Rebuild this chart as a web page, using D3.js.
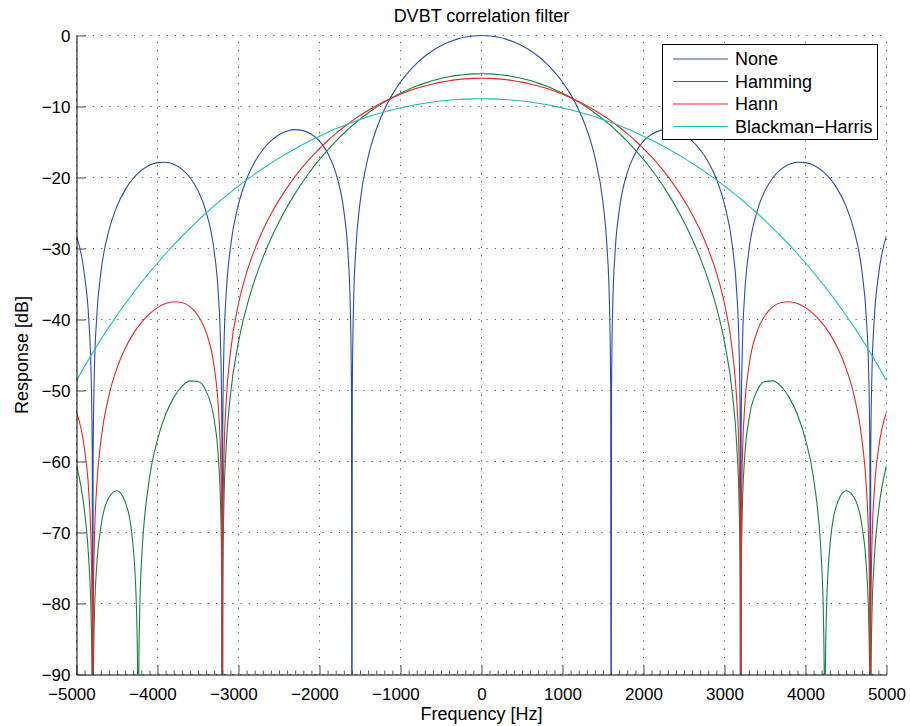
<!DOCTYPE html>
<html>
<head>
<meta charset="utf-8">
<title>DVBT correlation filter</title>
<script src="https://cdn.jsdelivr.net/npm/d3@7"></script>
<style>
  html, body { margin: 0; padding: 0; background: #fff; }
  svg { display: block; font-family: "Liberation Sans", Arial, Helvetica, sans-serif; }
  .grid line { stroke: #555; stroke-width: 1; stroke-dasharray: 1.2 7; }
  .axis .domain { stroke: #000; stroke-width: 1; }
  .axis .tick line { stroke: #4a4a4a; stroke-width: 1; }
  .axis text { fill: #000; font-size: 17px; }
  .minor .tick line { stroke: #5a5a5a; }
  .curve { fill: none; stroke-width: 1.1; stroke-linejoin: round; }
</style>
</head>
<body>
<svg id="chart" width="910" height="726"></svg>
<script>
// Frequency grid in Hz (denser close to the notches).
const freqHz = [
  -5000,-4900,-4850,-4820,-4805,-4800,-4795,-4780,-4750,-4700,-4600,-4500,-4400,-4300,-4256,-4244,-4238,-4232,-4220,-4200,
  -4100,-4000,-3900,-3800,-3700,-3600,-3500,-3400,-3300,-3250,-3220,-3205,-3200,-3195,-3180,-3150,-3100,-3000,-2900,-2800,
  -2700,-2600,-2500,-2400,-2300,-2200,-2100,-2000,-1900,-1800,-1700,-1650,-1620,-1605,-1600,-1595,-1580,-1550,-1500,-1400,
  -1300,-1200,-1100,-1000,-900,-800,-700,-600,-500,-400,-300,-200,-100,
  0,
  100,200,300,400,500,600,700,800,900,1000,1100,1200,1300,1400,1500,1550,1580,1595,1600,1605,
  1620,1650,1700,1800,1900,2000,2100,2200,2300,2400,2500,2600,2700,2800,2900,3000,3100,3150,3180,3195,
  3200,3205,3220,3250,3300,3400,3500,3600,3700,3800,3900,4000,4100,4200,4220,4232,4238,4244,4256,4300,
  4400,4500,4600,4700,4750,4780,4795,4800,4805,4820,4850,4900,5000
];

// Responses in dB. Notches are deep nulls far below the -90 dB floor (-150).
const respNone = [
  -28.18,-33.86,-39.75,-47.64,-59.65,-150,-59.63,-47.57,-39.57,-33.50,-27.46,-24.03,-21.74,-20.13,-19.59,-19.45,-19.39,-19.32,-19.20,-19.01,
  -18.28,-17.90,-17.85,-18.14,-18.83,-20.00,-21.85,-24.83,-30.43,-36.27,-44.14,-56.14,-150,-56.11,-44.03,-36.00,-29.88,-23.75,-20.21,-17.81,
  -16.09,-14.85,-13.99,-13.46,-13.26,-13.40,-13.91,-14.89,-16.54,-19.31,-24.67,-30.39,-38.17,-50.13,-150,-50.08,-37.96,-29.84,-23.58,-17.13,
  -13.25,-10.45,-8.29,-6.55,-5.11,-3.92,-2.93,-2.11,-1.44,-0.91,-0.51,-0.22,-0.06,
  0,
  -0.06,-0.22,-0.51,-0.91,-1.44,-2.11,-2.93,-3.92,-5.11,-6.55,-8.29,-10.45,-13.25,-17.13,-23.58,-29.84,-37.96,-50.08,-150,-50.13,
  -38.17,-30.39,-24.67,-19.31,-16.54,-14.89,-13.91,-13.40,-13.26,-13.46,-13.99,-14.85,-16.09,-17.81,-20.21,-23.75,-29.88,-36.00,-44.03,-56.11,
  -150,-56.14,-44.14,-36.27,-30.43,-24.83,-21.85,-20.00,-18.83,-18.14,-17.85,-17.90,-18.28,-19.01,-19.20,-19.32,-19.39,-19.45,-19.59,-20.13,
  -21.74,-24.03,-27.46,-33.50,-39.57,-47.57,-59.63,-150,-59.65,-47.64,-39.75,-33.86,-28.18
];

const respHamming = [
  -60.56,-67.16,-73.58,-81.82,-94.01,-150,-94.11,-82.24,-74.64,-69.30,-65.06,-64.11,-65.65,-72.06,-82.23,-92.00,-150,-90.67,-81.33,-74.67,
  -62.42,-56.91,-53.39,-51.00,-49.44,-48.65,-48.74,-50.09,-54.15,-59.25,-66.68,-78.46,-150,-78.29,-65.99,-57.54,-50.71,-43.18,-38.26,-34.46,
  -31.32,-28.63,-26.26,-24.14,-22.23,-20.50,-18.91,-17.46,-16.13,-14.90,-13.77,-13.24,-12.94,-12.78,-12.73,-12.68,-12.54,-12.25,-11.78,-10.91,
  -10.11,-9.38,-8.72,-8.12,-7.59,-7.12,-6.71,-6.35,-6.05,-5.81,-5.62,-5.49,-5.41,
  -5.38,
  -5.41,-5.49,-5.62,-5.81,-6.05,-6.35,-6.71,-7.12,-7.59,-8.12,-8.72,-9.38,-10.11,-10.91,-11.78,-12.25,-12.54,-12.68,-12.73,-12.78,
  -12.94,-13.24,-13.77,-14.90,-16.13,-17.46,-18.91,-20.50,-22.23,-24.14,-26.26,-28.63,-31.32,-34.46,-38.26,-43.18,-50.71,-57.54,-65.99,-78.29,
  -150,-78.46,-66.68,-59.25,-54.15,-50.09,-48.74,-48.65,-49.44,-51.00,-53.39,-56.91,-62.42,-74.67,-81.33,-90.67,-150,-92.00,-82.23,-72.06,
  -65.65,-64.11,-65.06,-69.30,-74.64,-82.24,-94.11,-150,-94.01,-81.82,-73.58,-67.16,-60.56
];

const respHann = [
  -53.06,-58.35,-64.04,-71.81,-83.75,-150,-83.70,-71.57,-63.45,-57.17,-50.71,-46.84,-44.10,-42.03,-41.28,-41.09,-41.00,-40.90,-40.72,-40.44,
  -39.22,-38.33,-37.75,-37.50,-37.61,-38.19,-39.43,-41.78,-46.70,-52.19,-59.85,-71.74,-150,-71.64,-59.45,-51.20,-44.70,-37.78,-33.41,-30.12,
  -27.44,-25.17,-23.19,-21.42,-19.84,-18.41,-17.11,-15.92,-14.82,-13.82,-12.89,-12.46,-12.21,-12.08,-12.04,-12.00,-11.88,-11.64,-11.26,-10.55,
  -9.89,-9.30,-8.75,-8.27,-7.83,-7.44,-7.11,-6.82,-6.57,-6.37,-6.22,-6.11,-6.04,
  -6.02,
  -6.04,-6.11,-6.22,-6.37,-6.57,-6.82,-7.11,-7.44,-7.83,-8.27,-8.75,-9.30,-9.89,-10.55,-11.26,-11.64,-11.88,-12.00,-12.04,-12.08,
  -12.21,-12.46,-12.89,-13.82,-14.82,-15.92,-17.11,-18.41,-19.84,-21.42,-23.19,-25.17,-27.44,-30.12,-33.41,-37.78,-44.70,-51.20,-59.45,-71.64,
  -150,-71.74,-59.85,-52.19,-46.70,-41.78,-39.43,-38.19,-37.61,-37.50,-37.75,-38.33,-39.22,-40.44,-40.72,-40.90,-41.00,-41.09,-41.28,-42.03,
  -44.10,-46.84,-50.71,-57.17,-63.45,-71.57,-83.70,-150,-83.75,-71.81,-64.04,-58.35,-53.06
];

const respBlackmanHarris = [
  -48.64,-46.60,-45.63,-45.05,-44.77,-44.67,-44.58,-44.30,-43.74,-42.83,-41.08,-39.40,-37.80,-36.27,-35.61,-35.43,-35.35,-35.26,-35.08,-34.80,
  -33.39,-32.04,-30.74,-29.50,-28.31,-27.16,-26.06,-25.00,-23.99,-23.50,-23.21,-23.07,-23.02,-22.97,-22.83,-22.55,-22.09,-21.19,-20.34,-19.52,
  -18.74,-17.99,-17.27,-16.59,-15.94,-15.32,-14.73,-14.18,-13.65,-13.15,-12.69,-12.46,-12.33,-12.27,-12.25,-12.23,-12.16,-12.04,-11.84,-11.45,
  -11.10,-10.77,-10.47,-10.20,-9.95,-9.73,-9.54,-9.37,-9.23,-9.11,-9.02,-8.96,-8.92,
  -8.90,
  -8.92,-8.96,-9.02,-9.11,-9.23,-9.37,-9.54,-9.73,-9.95,-10.20,-10.47,-10.77,-11.10,-11.45,-11.84,-12.04,-12.16,-12.23,-12.25,-12.27,
  -12.33,-12.46,-12.69,-13.15,-13.65,-14.18,-14.73,-15.32,-15.94,-16.59,-17.27,-17.99,-18.74,-19.52,-20.34,-21.19,-22.09,-22.55,-22.83,-22.97,
  -23.02,-23.07,-23.21,-23.50,-23.99,-25.00,-26.06,-27.16,-28.31,-29.50,-30.74,-32.04,-33.39,-34.80,-35.08,-35.26,-35.35,-35.43,-35.61,-36.27,
  -37.80,-39.40,-41.08,-42.83,-43.74,-44.30,-44.58,-44.67,-44.77,-45.05,-45.63,-46.60,-48.64
];

const seriesNames = ["None", "Hamming", "Hann", "Blackman\u2212Harris"];
const xTickValues = [-5000,-4000,-3000,-2000,-1000,0,1000,2000,3000,4000,5000];
const yTickValues = [0,-10,-20,-30,-40,-50,-60,-70,-80,-90];
const xMinorStep = 100;

// ---- layout ----
const plot = { left: 76.5, right: 886.5, top: 35.5, bottom: 674.5 };
const colors = ["#2a4cad", "#178042", "#ee2424", "#1fbdbd"];
const fmt = v => (v < 0 ? "\u2212" : "") + Math.abs(v);

const svg = d3.select("#chart");
const x = d3.scaleLinear().domain([-5000, 5000]).range([plot.left, plot.right]);
const y = d3.scaleLinear().domain([-90, 0]).range([plot.bottom, plot.top]);

// dotted grid
const grid = svg.append("g").attr("class", "grid");
grid.selectAll("line.gx").data(xTickValues).join("line")
  .attr("class", "gx")
  .attr("x1", d => x(d)).attr("x2", d => x(d))
  .attr("y1", plot.bottom).attr("y2", plot.top);
grid.selectAll("line.gy").data(yTickValues).join("line")
  .attr("class", "gy")
  .attr("x1", plot.left).attr("x2", plot.right)
  .attr("y1", d => y(d)).attr("y2", d => y(d));

// curves, clipped to the axes box
svg.append("defs").append("clipPath").attr("id", "plotClip")
  .append("rect")
  .attr("x", plot.left).attr("y", plot.top - 2)
  .attr("width", plot.right - plot.left).attr("height", plot.bottom - plot.top + 2);

const seriesValues = [respNone, respHamming, respHann, respBlackmanHarris];
const series = seriesNames.map((name, i) => ({
  name, color: colors[i], points: d3.zip(freqHz, seriesValues[i])
}));

const line = d3.line()
  .x(d => x(d[0]))
  .y(d => y(d[1]))
  .curve(d3.curveMonotoneX);

svg.append("g").attr("clip-path", "url(#plotClip)")
  .selectAll("path").data(series).join("path")
  .attr("class", "curve")
  .attr("stroke", d => d.color)
  .attr("d", d => line(d.points));

// axes (ticks pointing inward)
const minorTicks = d3.range(-5000, 5001, xMinorStep).filter(v => !xTickValues.includes(v));
svg.append("g").attr("class", "axis minor")
  .attr("transform", `translate(0,${plot.bottom})`)
  .call(d3.axisBottom(x).tickValues(minorTicks).tickSize(-4).tickSizeOuter(0).tickFormat(""))
  .call(g => g.select(".domain").remove());

const xAxis = svg.append("g").attr("class", "axis")
  .attr("transform", `translate(0,${plot.bottom})`)
  .call(d3.axisBottom(x).tickValues(xTickValues).tickSize(-9).tickSizeOuter(0)
    .tickPadding(13).tickFormat(fmt));
xAxis.selectAll("text").attr("dx", d => d < 0 ? "-0.3em" : 0);

svg.append("g").attr("class", "axis")
  .attr("transform", `translate(${plot.left},0)`)
  .call(d3.axisLeft(y).tickValues(yTickValues).tickSize(-9).tickSizeOuter(0)
    .tickPadding(6).tickFormat(fmt))
  .call(g => g.selectAll("text").attr("dy", "0.34em"));

// title and axis labels
svg.append("text")
  .attr("x", (plot.left + plot.right) / 2).attr("y", 22)
  .attr("text-anchor", "middle").attr("font-size", 18)
  .text("DVBT correlation filter");

svg.append("text")
  .attr("x", (plot.left + plot.right) / 2).attr("y", 719.5)
  .attr("text-anchor", "middle").attr("font-size", 18)
  .text("Frequency [Hz]");

svg.append("text")
  .attr("transform", `translate(28,${(plot.top + plot.bottom) / 2}) rotate(-90)`)
  .attr("text-anchor", "middle").attr("font-size", 18)
  .text("Response [dB]");

// legend
const legend = svg.append("g").attr("transform", "translate(662.5,44.5)");
legend.append("rect")
  .attr("width", 215).attr("height", 95)
  .attr("fill", "#fff").attr("stroke", "#000").attr("stroke-width", 1);
const rows = legend.selectAll("g.row").data(series).join("g")
  .attr("class", "row")
  .attr("transform", (d, i) => `translate(0,${14.5 + i * 22.5})`);
rows.append("line")
  .attr("x1", 10.5).attr("x2", 65.5)
  .attr("stroke", d => d.color).attr("stroke-width", 1.1);
rows.append("text")
  .attr("x", 72.5).attr("dy", "0.36em")
  .attr("font-size", 18)
  .text(d => d.name);
</script>
</body>
</html>
